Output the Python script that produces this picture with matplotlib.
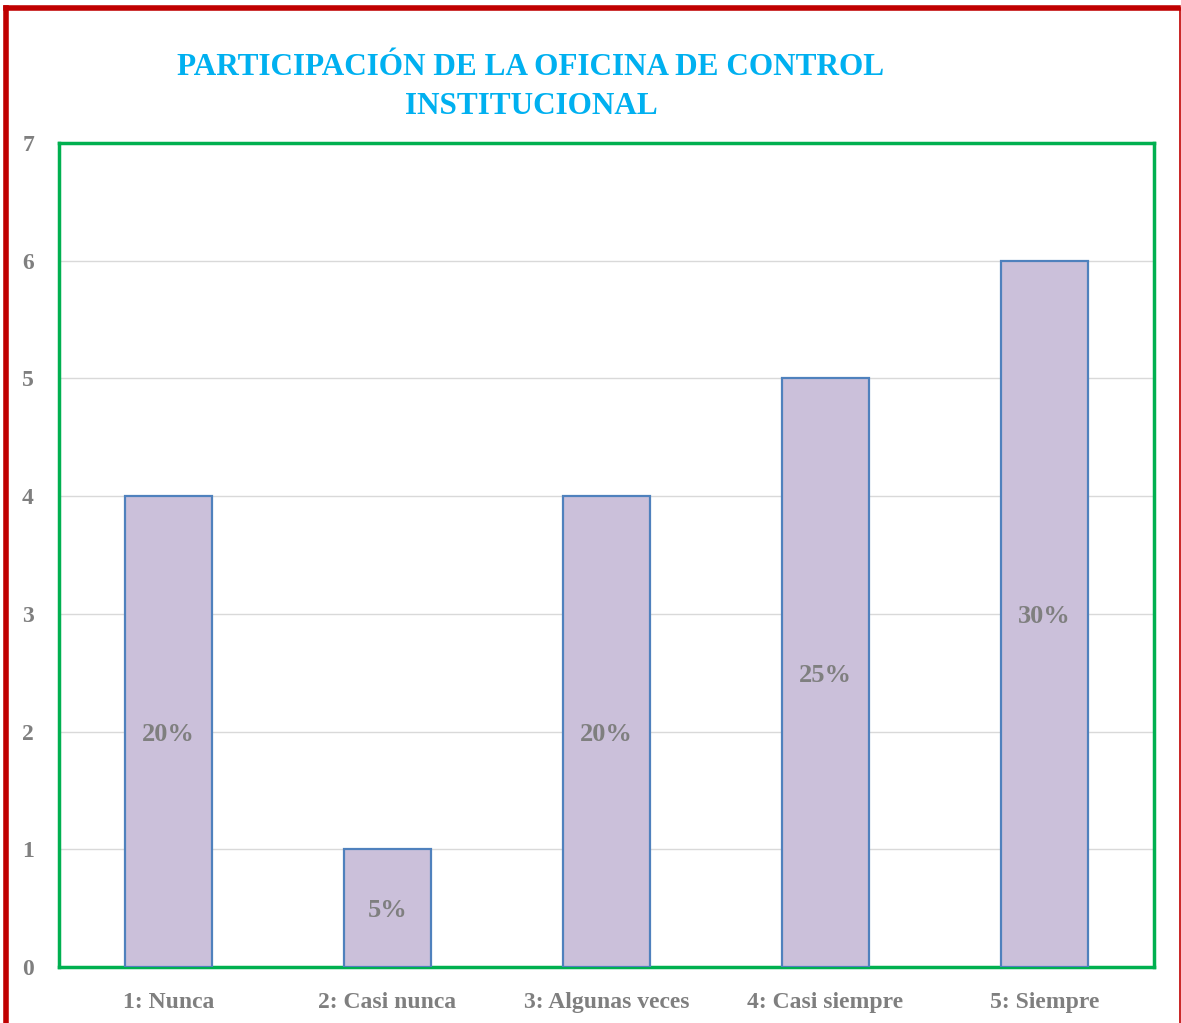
import numpy as np
import matplotlib.pyplot as plt
from matplotlib.lines import Line2D

categorias = ['1: Nunca', '2: Casi nunca', '3: Algunas veces', '4: Casi siempre', '5: Siempre']
valores = [4, 1, 4, 5, 6]
porcentajes = ['20%', '5%', '20%', '25%', '30%']

plt.rcParams['font.family'] = ['Liberation Serif', 'DejaVu Serif']
plt.rcParams['font.weight'] = 'bold'

gris = '#7f7f7f'

fig = plt.figure(figsize=(11.81, 10.23), dpi=100)
ax = fig.add_axes([59/1181, 1 - 967/1023, 1095/1181, 824/1023])

x = np.arange(len(categorias))
ax.bar(x, valores, width=0.4, color='#cbc0da', edgecolor='#4f81bd', linewidth=1.6, zorder=3)

for xi, v, p in zip(x, valores, porcentajes):
    ax.text(xi, v / 2, p, ha='center', va='center_baseline', fontsize=19, color=gris,
            fontweight='bold', zorder=4)

ax.set_xlim(-0.5, 4.5)
ax.set_ylim(0, 7)
ax.set_yticks(range(0, 8))
ax.set_xticks(x)
ax.set_xticklabels(categorias)
ax.tick_params(axis='both', length=0, labelsize=17, labelcolor=gris)
ax.tick_params(axis='y', pad=18)
ax.tick_params(axis='x', pad=18)
for lab in ax.get_xticklabels() + ax.get_yticklabels():
    lab.set_fontweight('bold')
ax.grid(axis='y', color='#d9d9d9', linewidth=1.0, zorder=0)
for s in ax.spines.values():
    s.set_color('#00b050')
    s.set_linewidth(2.5)

fig.text(531/1181, 1 - 87/1023, 'PARTICIPACIÓN DE LA OFICINA DE CONTROL\nINSTITUCIONAL',
         ha='center', va='center', fontsize=22.5, color='#00b0f0', fontweight='bold',
         linespacing=1.45)

# marco rojo exterior
fig.add_artist(Line2D([6/1181, 1178/1181], [1 - 8/1023, 1 - 8/1023], color='#c00000', linewidth=4,
                      transform=fig.transFigure))
fig.add_artist(Line2D([6/1181, 6/1181], [0, 1 - 8/1023], color='#c00000', linewidth=4,
                      transform=fig.transFigure))
fig.add_artist(Line2D([1180/1181, 1180/1181], [0, 1 - 8/1023], color='#c00000', linewidth=1.2,
                      transform=fig.transFigure))

fig.savefig('out.png', dpi=100)
